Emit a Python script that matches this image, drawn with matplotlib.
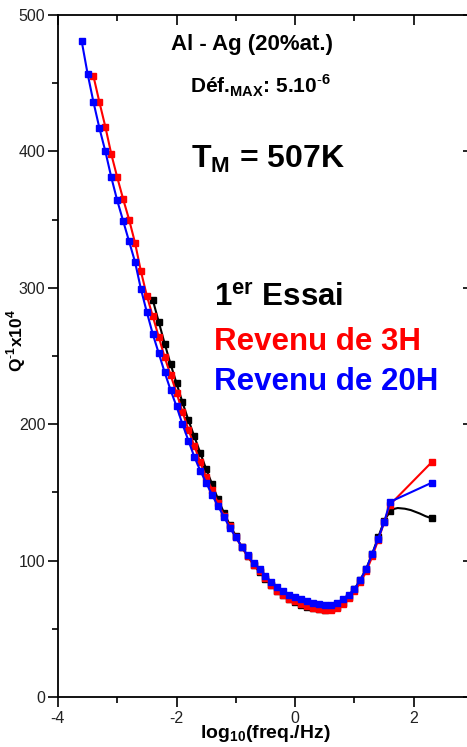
import matplotlib
matplotlib.use("Agg")
import matplotlib.pyplot as plt
from matplotlib.ticker import MultipleLocator

plt.rcParams['font.family'] = ['Liberation Sans', 'DejaVu Sans']
plt.rcParams['mathtext.fontset'] = 'custom'
plt.rcParams['mathtext.rm'] = 'Liberation Sans'
plt.rcParams['mathtext.bf'] = 'Liberation Sans:bold'
plt.rcParams['axes.unicode_minus'] = False

# ---- data (log10 freq, Q^-1 x 10^4) ----
x_blue = [-3.6, -3.5, -3.4, -3.3, -3.2, -3.1, -3.0, -2.9, -2.8, -2.7,
          -2.6, -2.5, -2.4, -2.3, -2.2, -2.1, -2.0, -1.9, -1.8, -1.7,
          -1.6, -1.5, -1.4, -1.3, -1.2, -1.1, -1.0, -0.9, -0.8, -0.7,
          -0.6, -0.5, -0.4, -0.3, -0.2, -0.1, 0.0, 0.1, 0.2, 0.3,
          0.4, 0.5, 0.6, 0.7, 0.8, 0.9, 1.0, 1.1, 1.2, 1.3,
          1.4, 1.5, 1.6, 2.3]
y_blue = [481, 457, 436, 417, 400, 381, 364, 349, 334, 319,
          299, 282, 266, 252, 238, 225, 213, 200, 188, 176,
          166, 157, 148, 140, 132, 124, 117, 110, 104, 98,
          94, 89, 84, 80.5, 77.5, 75, 73, 71.5, 70, 69,
          68.3, 67.6, 67.5, 69, 71.5, 75, 79, 86, 94, 105,
          116, 128, 143, 157]

x_red = [-3.4, -3.3, -3.2, -3.1, -3.0, -2.9, -2.8, -2.7, -2.6, -2.5,
         -2.4, -2.3, -2.2, -2.1, -2.0, -1.9, -1.8, -1.7, -1.6, -1.5,
         -1.4, -1.3, -1.2, -1.1, -1.0, -0.9, -0.8, -0.7, -0.6, -0.5,
         -0.4, -0.3, -0.2, -0.1, 0.0, 0.1, 0.2, 0.3, 0.4, 0.5,
         0.6, 0.7, 0.8, 0.9, 1.0, 1.1, 1.2, 1.3, 1.4, 1.5,
         1.6, 2.3]
y_red = [455, 436, 418, 398, 381, 365, 350, 333, 312, 294,
         279, 264, 249, 236, 223, 209, 196, 184, 172, 161,
         152, 142, 133, 125, 117, 110, 103, 97, 92, 87,
         82, 78, 75, 72, 70, 68, 66.5, 65.5, 64.5, 64,
         64, 65.5, 68.5, 72.5, 77.5, 84, 92, 103, 115, 128,
         141, 172]

x_black = [-2.4, -2.3, -2.2, -2.1, -2.0, -1.9, -1.8, -1.7, -1.6, -1.5,
           -1.4, -1.3, -1.2, -1.1, -1.0, -0.9, -0.8, -0.7, -0.6, -0.5,
           -0.4, -0.3, -0.2, -0.1, 0.0, 0.1, 0.2, 0.3, 0.4, 0.5,
           0.6, 0.7, 0.8, 0.9, 1.0, 1.1, 1.2, 1.3, 1.4, 1.5,
           1.6, 2.3]
y_black = [291, 275, 259, 244, 230, 216, 203, 191, 179, 167,
           156, 145, 135, 126, 118, 110, 103, 97, 91.5, 86.5,
           82, 78, 74.5, 71.5, 69.5, 67.5, 66, 65, 64.5, 64,
           64.5, 66, 69, 73.5, 79, 86, 94, 105, 117, 129,
           136, 131]
# the black end is drawn as a smooth curve between the last two points
x_black_tail = [1.6, 1.66, 1.73, 1.85, 1.95, 2.1, 2.2, 2.3]
y_black_tail = [136, 137.8, 138.5, 138, 137, 134.5, 132.5, 131]

fig = plt.figure(figsize=(4.67, 7.47), dpi=100)
ax = fig.add_axes([0.124, 0.067, 0.889, 0.913])

ms = 3.8
lw = 1.5
ax.plot(x_black[:-1], y_black[:-1], color="black", lw=lw, marker="s", ms=ms)
ax.plot(x_black_tail, y_black_tail, color="black", lw=lw)
ax.plot(x_black[-1:], y_black[-1:], color="black", marker="s", ms=ms, lw=0)
ax.plot(x_red, y_red, color="#ff0000", lw=lw, marker="s", ms=ms)
ax.plot(x_blue, y_blue, color="#0000ff", lw=lw, marker="s", ms=ms)

ax.set_xlim(-4, 3)
ax.set_ylim(0, 500)
ax.xaxis.set_major_locator(MultipleLocator(2))
ax.xaxis.set_minor_locator(MultipleLocator(1))
ax.yaxis.set_major_locator(MultipleLocator(100))
ax.yaxis.set_minor_locator(MultipleLocator(50))

for s in ax.spines.values():
    s.set_linewidth(1.3)
ax.tick_params(which="both", direction="out", top=True, right=True,
               labelsize=11.5, labelcolor="#222222", pad=2, width=1.2)
ax.tick_params(axis="x", pad=3)
ax.tick_params(which="major", length=7)
ax.tick_params(which="minor", length=4)
# ticks on top/right point inwards
for t in ax.xaxis.get_major_ticks() + ax.xaxis.get_minor_ticks():
    t.tick2line.set_marker(matplotlib.lines.TICKDOWN)
for t in ax.yaxis.get_major_ticks() + ax.yaxis.get_minor_ticks():
    t.tick2line.set_marker(matplotlib.lines.TICKLEFT)

ax.set_xlabel(r"log$_{\mathbf{10}}$(freq./Hz)", fontsize=14, fontweight="bold",
              labelpad=-2)
ax.set_ylabel(r"Q$^{\mathbf{\text{-}1}}$x10$^{\mathbf{4}}$", fontsize=12.5,
              fontweight="bold")
ax.yaxis.set_label_coords(-0.072, 0.522)

ax.text(-0.73, 478, "Al - Ag (20%at.)", fontsize=16, fontweight="bold",
        ha="center", va="center")
ax.text(-0.59, 448, r"Déf.$_{\mathbf{MAX}}$: 5.10$^{\mathbf{\text{-}6}}$",
        fontsize=15, fontweight="bold", ha="center", va="center")
ax.text(-0.46, 394, r"T$_{\mathbf{M}}$ = 507K", fontsize=23, fontweight="bold",
        ha="center", va="center")
ax.text(-1.37, 292, r"1$^{\mathbf{er}}$ Essai", fontsize=22.5, fontweight="bold",
        color="black", ha="left", va="center")
ax.text(-1.37, 260, "Revenu de 3H", fontsize=22.5, fontweight="bold",
        color="#ff0000", ha="left", va="center")
ax.text(-1.37, 231, "Revenu de 20H", fontsize=22.5, fontweight="bold",
        color="#0000ff", ha="left", va="center")

fig.savefig("out.png", dpi=100)
